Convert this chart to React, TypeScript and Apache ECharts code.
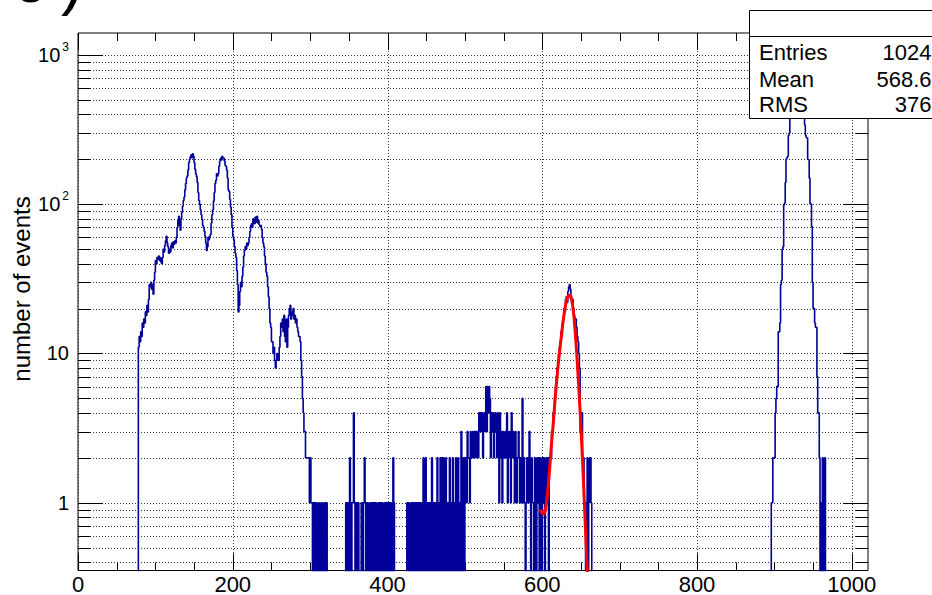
import React, { useEffect, useRef } from 'react';
import * as echarts from 'echarts';

// ---------- axis ranges ----------
const N_CHANNELS = 1020;
const X_MIN = 0;
const X_MAX = 1021;
const Y_MIN = 0.3512;
const Y_MAX = 1406;
const EMPTY_BIN_DRAW_VALUE = 0.1; // empty bins drop below the frame on the log axis

// ---------- histogram counts (one value per channel) ----------
const lowPeaksStart = 78;
const lowPeaksCounts = [
  11, 13, 12, 14, 13, 16, 15, 17, 16, 19,
  18, 21, 19, 23, 29, 28, 30, 27, 29, 25,
  31, 35, 42, 40, 44, 43, 45, 42, 44, 41,
  40, 44, 50, 48, 53, 57, 61, 55, 52, 47,
  50, 48, 53, 55, 51, 56, 54, 57, 55, 60,
  70, 78, 83, 72, 67, 80, 88, 97, 106, 112,
  125, 138, 150, 155, 170, 190, 200, 208, 215, 205,
  218, 210, 190, 172, 160, 153, 140, 120, 106, 100,
  92, 85, 79, 72, 70, 66, 61, 55, 49, 52,
  60, 58, 61, 63, 75, 85, 92, 105, 120, 138,
  145, 160, 155, 161, 180, 195, 203, 198, 210, 205,
  203, 195, 182, 180, 170, 150, 125, 122, 108, 96,
  85, 70, 61, 58, 52, 47, 44, 36, 29, 19,
  21, 26, 30, 28, 33, 38, 45, 49, 52, 50,
  55, 53, 55, 60, 66, 72, 74, 70, 80, 78,
  74, 82, 76, 83, 75, 78, 73, 71, 72, 68,
  60, 55, 52, 45, 40, 35, 33, 28, 24, 20,
  16, 15, 12, 12, 10, 11, 9, 8, 9, 10,
  9, 9, 11, 13, 16, 15, 17, 14, 18, 13,
  12, 17, 11, 15, 18, 20, 21, 17, 19, 18,
  20, 17, 18, 16, 17, 15, 14, 13, 13, 12,
  9, 7, 5, 4, 3, 3, 2, 2, 2, 2,
  2, 1, 2,
];

const noiseStart = 301;
const noiseCounts = [
  1, 1, 0, 1, 1, 0, 1, 1, 0, 0,
  1, 0, 0, 1, 1, 0, 0, 1, 0, 1,
  1, 0, 0, 0, 0, 0, 0, 0, 0, 0,
  0, 0, 0, 0, 0, 0, 0, 0, 0, 0,
  0, 0, 0, 0, 0, 1, 0, 1, 1, 0,
  2, 1, 0, 1, 1, 4, 1, 0, 1, 0,
  1, 1, 0, 0, 0, 1, 1, 0, 1, 2,
  1, 0, 1, 1, 0, 0, 1, 0, 1, 1,
  0, 1, 1, 0, 1, 0, 0, 1, 0, 1,
  1, 0, 1, 0, 0, 1, 1, 0, 1, 0,
  1, 0, 1, 1, 0, 0, 2, 1, 0, 0,
  0, 0, 0, 0, 0, 0, 0, 0, 0, 0,
  0, 0, 0, 0, 1, 0, 1, 0, 0, 1,
  1, 0, 1, 0, 1, 1, 0, 1, 0, 1,
  1, 0, 1, 0, 0, 2, 0, 1, 2, 0,
  1, 0, 1, 0, 1, 0, 2, 0, 1, 0,
  1, 0, 1, 2, 0, 1, 0, 2, 0, 2,
  0, 2, 0, 1, 2, 0, 1, 0, 1, 2,
  0, 1, 0, 2, 1, 0, 1, 2, 0, 1,
  2, 0, 1, 0, 3, 1, 0, 2, 0, 2,
  2, 1, 3, 2, 2, 1, 3, 2, 2, 3,
  2, 3, 3, 2, 3, 3, 2, 4, 3, 4,
  3, 4, 2, 3, 4, 3, 6, 3, 6, 4,
  6, 5, 2, 4, 3, 4, 2, 3, 4, 3,
  2, 4, 3, 1, 4, 2, 3, 1, 3, 2,
  2, 3, 2, 4, 1, 2, 3, 2, 1, 4,
  2, 3, 2, 1, 3, 2, 1, 2, 3, 2,
  1, 2, 1, 5, 1, 2, 1, 0, 1, 2,
  1, 2, 3, 1, 0, 2, 1, 1, 0, 2,
  1, 0, 2, 1, 2, 0,
];

const fitPeakStart = 597;
const fitPeakCounts = [
  2, 1, 0, 2, 1, 2, 0, 1, 2, 1, 2, 0, 2, 2,
  2, 3, 3, 4, 4, 5, 6, 7, 8, 9,
  10, 11, 12, 14, 13, 16, 17, 20, 19, 23,
  24, 22, 26, 28, 29, 27, 24, 22, 23, 20,
  18, 17, 17, 15, 13, 12, 10,
  8, 3, 4, 4, 2, 2, 1, 1, 0, 1, 2, 0, 1, 2, 2, 1, 0,
];

const highPeakStart = 896;
const highPeakCounts = [
  1, 1, 2, 2, 2, 4, 5, 6, 6, 14,
  14, 16, 29, 31, 50, 52, 99, 102, 140, 200,
  205, 210, 290, 300, 380, 450, 520, 600, 680, 750,
  800, 850, 870, 890, 880, 860, 820, 760, 700, 620,
  540, 470, 400, 340, 290, 280, 277, 200, 198, 150,
  101, 100, 71, 30, 20, 20, 16, 15, 15, 7,
  4, 4, 2, 0, 1, 0, 2, 0, 0, 2, 0,
];

// ---------- fitted function (red) ----------
const fitChannels = [
  597.5, 600, 602, 604, 606, 608, 610, 612, 614, 616, 618, 620, 622, 624, 626, 628,
  630, 632, 634, 635.5, 637, 639, 641, 643, 645, 647, 649, 651, 653, 655, 657, 659,
];
const fitValues = [
  0.9, 0.85, 0.84, 0.9, 1.05, 1.35, 1.8, 2.5, 3.3, 4.5, 6.0, 7.8, 9.8, 12.2, 15.0, 18.0,
  21.0, 23.3, 24.5, 24.6, 23.8, 21.5, 17.5, 13.0, 9.2, 6.2, 4.0, 2.5, 1.5, 0.85, 0.48, 0.27,
];

// ---------- ticks ----------
const xMajorTicks = [0, 200, 400, 600, 800, 1000];
const xMinorTicks = [50, 100, 150, 250, 300, 350, 450, 500, 550, 650, 700, 750, 850, 900, 950];
const yMajorTicks = [1, 10, 100, 1000];
const yMinorTicks = [
  0.4, 0.5, 0.6, 0.7, 0.8, 0.9,
  2, 3, 4, 5, 6, 7, 8, 9,
  20, 30, 40, 50, 60, 70, 80, 90,
  200, 300, 400, 500, 600, 700, 800, 900,
];

// ---------- texts ----------
const yTitle = 'number of events';
const panelLabel = ['c', ')'];
const statsLabels = ['Entries', 'Mean', 'RMS'];
const statsValues = ['1024', '568.6', '376'];

const FONT = 'Liberation Sans, Arial, Helvetica, sans-serif';
const HIST_COLOR = '#000099';
const GRID_DOT = '#333';

function buildCounts(): number[] {
  const counts: number[] = new Array(N_CHANNELS).fill(0);
  const put = (start: number, arr: number[]) => {
    arr.forEach((c, i) => {
      counts[start + i] = c;
    });
  };
  put(lowPeaksStart, lowPeaksCounts);
  put(noiseStart, noiseCounts);
  put(fitPeakStart, fitPeakCounts);
  put(highPeakStart, highPeakCounts);
  return counts;
}

function xTickRender(len: number, withGrid: boolean) {
  return (params: any, api: any) => {
    const cs = params.coordSys;
    const v = api.value(0);
    const px = Math.round(api.coord([v, 1])[0]) + 0.5;
    const top = cs.y;
    const bottom = cs.y + cs.height;
    const children: any[] = [];
    if (withGrid) {
      children.push({
        type: 'line',
        shape: { x1: px, y1: top, x2: px, y2: bottom },
        style: { stroke: GRID_DOT, lineWidth: 1, lineDash: [1, 2] },
      });
    }
    children.push({ type: 'line', shape: { x1: px, y1: bottom, x2: px, y2: bottom - len }, style: { stroke: '#000', lineWidth: 1 } });
    children.push({ type: 'line', shape: { x1: px, y1: top, x2: px, y2: top + len }, style: { stroke: '#000', lineWidth: 1 } });
    return { type: 'group', children };
  };
}

function yTickRender(len: number) {
  return (params: any, api: any) => {
    const cs = params.coordSys;
    const v = api.value(1);
    const py = Math.round(api.coord([X_MIN, v])[1]) + 0.5;
    const left = cs.x;
    const right = cs.x + cs.width;
    return {
      type: 'group',
      children: [
        { type: 'line', shape: { x1: left, y1: py, x2: right, y2: py }, style: { stroke: GRID_DOT, lineWidth: 1, lineDash: [1, 2] } },
        { type: 'line', shape: { x1: left, y1: py, x2: left + len, y2: py }, style: { stroke: '#000', lineWidth: 1 } },
        { type: 'line', shape: { x1: right - len, y1: py, x2: right, y2: py }, style: { stroke: '#000', lineWidth: 1 } },
      ],
    };
  };
}

function yLabel(v: number): string {
  const lg = Math.log10(v);
  const e = Math.round(lg);
  if (Math.abs(lg - e) > 1e-6) return '';
  if (e === 0) return '1';
  if (e === 1) return '10';
  return `{b|10}{s|${e}}`;
}

function buildOption(): any {
  const counts = buildCounts();
  const histData: number[][] = counts.map((c, i) => [i, c > 0 ? c : EMPTY_BIN_DRAW_VALUE]);
  const last = counts[counts.length - 1];
  histData.push([N_CHANNELS, last > 0 ? last : EMPTY_BIN_DRAW_VALUE]);
  const fitData = fitChannels.map((x, i) => [x, fitValues[i]]);

  const statsTexts: any[] = [];
  const rowY = [52, 79, 104];
  statsLabels.forEach((t, i) => {
    statsTexts.push({
      type: 'text', x: 759, y: rowY[i], z: 102,
      style: { text: t, fontSize: 22, fontFamily: FONT, fill: '#000', align: 'left', verticalAlign: 'middle', textAlign: 'left', textVerticalAlign: 'middle' },
    });
    statsTexts.push({
      type: 'text', x: 931.5, y: rowY[i], z: 102,
      style: { text: statsValues[i], fontSize: 22, fontFamily: FONT, fill: '#000', align: 'right', verticalAlign: 'middle', textAlign: 'right', textVerticalAlign: 'middle' },
    });
  });

  return {
    animation: false,
    backgroundColor: '#fff',
    textStyle: { fontFamily: FONT },
    grid: {
      left: 78, top: 33, right: 64, bottom: 24.5,
      show: true, borderColor: '#000', borderWidth: 1, backgroundColor: 'transparent',
      outerBoundsMode: 'none', containLabel: false,
    },
    xAxis: {
      type: 'value', min: X_MIN, max: X_MAX, interval: 200,
      axisLine: { show: false }, axisTick: { show: false }, splitLine: { show: false }, minorTick: { show: false },
      axisLabel: {
        fontSize: 22, fontFamily: FONT, color: '#000', margin: 2.5,
        showMaxLabel: false,
        formatter: (v: number) => (v % 200 === 0 ? String(v) : ''),
      },
    },
    yAxis: {
      type: 'log', logBase: 10, min: Y_MIN, max: Y_MAX,
      axisLine: { show: false }, axisTick: { show: false }, splitLine: { show: false }, minorTick: { show: false },
      axisLabel: {
        fontSize: 20, fontFamily: FONT, color: '#000', margin: 9,
        showMinLabel: false, showMaxLabel: false,
        formatter: yLabel,
        rich: {
          b: { fontSize: 20, fontFamily: FONT, color: '#000', padding: [4, 0, 4, 0], verticalAlign: 'bottom' },
          s: { fontSize: 12, fontFamily: FONT, color: '#000', padding: [0, 0, 0, 2], verticalAlign: 'top' },
        },
      },
    },
    series: [
      { type: 'custom', name: 'xMajor', silent: true, z: 1, clip: false, renderItem: xTickRender(17, true), data: xMajorTicks.map((v) => [v, 1]) },
      { type: 'custom', name: 'xMinor', silent: true, z: 1, clip: false, renderItem: xTickRender(8, false), data: xMinorTicks.map((v) => [v, 1]) },
      { type: 'custom', name: 'yMajor', silent: true, z: 1, clip: false, renderItem: yTickRender(25), data: yMajorTicks.map((v) => [X_MIN, v]) },
      { type: 'custom', name: 'yMinor', silent: true, z: 1, clip: false, renderItem: yTickRender(12), data: yMinorTicks.map((v) => [X_MIN, v]) },
      {
        type: 'line', name: 'histogram', z: 3, step: 'end', data: histData, showSymbol: false, symbol: 'none',
        clip: true, silent: true,
        lineStyle: { color: HIST_COLOR, width: 1.6 },
      },
      {
        type: 'line', name: 'fit', z: 4, data: fitData, showSymbol: false, symbol: 'none', smooth: 0.3,
        clip: true, silent: true,
        lineStyle: { color: '#ff0000', width: 3 },
      },
    ],
    graphic: [
      {
        type: 'text', x: 21, y: 289, rotation: Math.PI / 2, z: 50,
        style: { text: yTitle, fontSize: 24, fontFamily: FONT, fill: '#000', align: 'center', verticalAlign: 'middle', textAlign: 'center', textVerticalAlign: 'middle' },
      },
      {
        type: 'text', x: 13, y: -21, z: 50,
        style: { text: panelLabel[0], fontSize: 66, fontFamily: FONT, fill: '#000', align: 'left', verticalAlign: 'middle', textAlign: 'left', textVerticalAlign: 'middle' },
      },
      {
        type: 'text', x: 61, y: -21, z: 50,
        style: { text: panelLabel[1], fontSize: 66, fontFamily: FONT, fill: '#000', align: 'left', verticalAlign: 'middle', textAlign: 'left', textVerticalAlign: 'middle' },
      },
      {
        type: 'rect', z: 100,
        shape: { x: 749.5, y: 10.5, width: 200, height: 108 },
        style: { fill: '#fff', stroke: '#000', lineWidth: 1 },
      },
      {
        type: 'line', z: 101,
        shape: { x1: 749.5, y1: 36.5, x2: 940, y2: 36.5 },
        style: { stroke: '#000', lineWidth: 1 },
      },
      ...statsTexts,
    ],
  };
}

export default function App() {
  const ref = useRef<HTMLDivElement>(null);
  useEffect(() => {
    const el = ref.current;
    if (!el) return;
    const chart = echarts.init(el, null, { renderer: 'svg' });
    chart.setOption(buildOption());
    return () => {
      chart.dispose();
    };
  }, []);
  return (
    <div
      ref={ref}
      style={{ position: 'fixed', left: 0, top: 0, width: 932, height: 595, background: '#fff' }}
    />
  );
}
